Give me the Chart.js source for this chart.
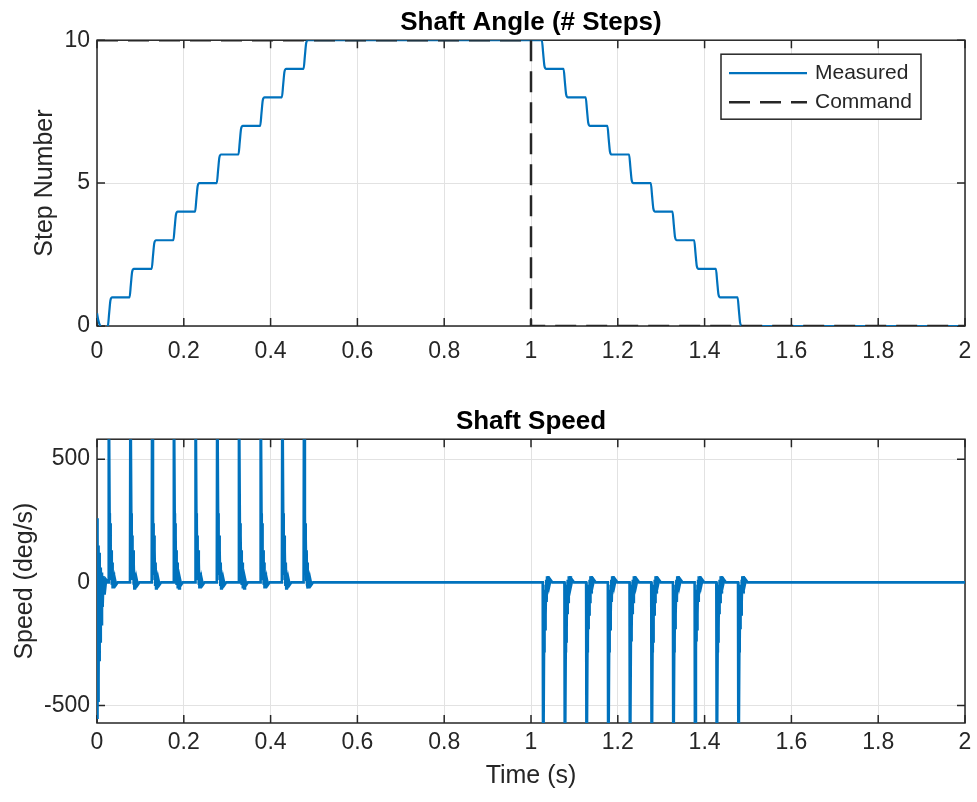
<!DOCTYPE html>
<html>
<head>
  <title>Shaft Angle / Shaft Speed</title>
  <script src="https://cdn.jsdelivr.net/npm/chart.js"></script>
  <style>
    body { margin: 0; background: #fff; }
    .panel { position: absolute; left: 0; width: 977px; }
  </style>
</head>
<body>
  <div class="panel" style="top:0; height:380px;"><canvas id="angleChart"></canvas></div>
  <div class="panel" style="top:380px; height:422px;"><canvas id="speedChart"></canvas></div>

  <script>
    // ---- data ----
    const xTickValues = [0, 0.2, 0.4, 0.6, 0.8, 1, 1.2, 1.4, 1.6, 1.8, 2];
    const xTickLabels = ['0', '0.2', '0.4', '0.6', '0.8', '1', '1.2', '1.4', '1.6', '1.8', '2'];
    const angleTickValues = [0, 5, 10];
    const angleTickLabels = ['0', '5', '10'];
    const speedTickValues = [-500, 0, 500];
    const speedTickLabels = ['-500', '0', '500'];

    // shaft angle, measured (steps)
    const angleTime = [
      0, 0.003, 0.007, 0.015,
      0.025, 0.028, 0.031, 0.035,
      0.075, 0.078, 0.081, 0.085,
      0.126, 0.129, 0.132, 0.136,
      0.176, 0.179, 0.182, 0.186,
      0.226, 0.229, 0.232, 0.236,
      0.276, 0.279, 0.282, 0.286,
      0.326, 0.329, 0.332, 0.336,
      0.376, 0.379, 0.382, 0.386,
      0.426, 0.429, 0.432, 0.436,
      0.476, 0.479, 0.482, 0.486,
      1.025, 1.028, 1.031, 1.035,
      1.075, 1.078, 1.081, 1.085,
      1.126, 1.129, 1.132, 1.136,
      1.176, 1.179, 1.182, 1.186,
      1.226, 1.229, 1.232, 1.236,
      1.276, 1.279, 1.282, 1.286,
      1.326, 1.329, 1.332, 1.336,
      1.376, 1.379, 1.382, 1.386,
      1.426, 1.429, 1.432, 1.436,
      1.476, 1.479, 1.482, 1.486,
      2
    ];
    const angleMeasured = [
      0.45, 0.2, 0.02, -0.05,
      0, 0.45, 0.9, 1,
      1, 1.45, 1.9, 2,
      2, 2.45, 2.9, 3,
      3, 3.45, 3.9, 4,
      4, 4.45, 4.9, 5,
      5, 5.45, 5.9, 6,
      6, 6.45, 6.9, 7,
      7, 7.45, 7.9, 8,
      8, 8.45, 8.9, 9,
      9, 9.45, 9.9, 10,
      10, 9.55, 9.1, 9,
      9, 8.55, 8.1, 8,
      8, 7.55, 7.1, 7,
      7, 6.55, 6.1, 6,
      6, 5.55, 5.1, 5,
      5, 4.55, 4.1, 4,
      4, 3.55, 3.1, 3,
      3, 2.55, 2.1, 2,
      2, 1.55, 1.1, 1,
      1, 0.55, 0.1, 0,
      0
    ];

    // shaft angle, command (steps)
    const commandTime = [0, 1, 1, 2];
    const commandValue = [10, 10, 0, 0];

    // shaft speed (deg/s); spikes run past the axis limits
    const speedTime = [
      0, 0.0006, 0.0012, 0.0018, 0.0025, 0.0032, 0.004, 0.0048, 0.0057, 0.0066, 0.0076, 0.0087, 0.010, 0.0115, 0.013, 0.015, 0.0175, 0.021, 0.025,
      0.026, 0.027, 0.029, 0.0296, 0.0302, 0.0308, 0.0315, 0.0322, 0.033, 0.034, 0.035, 0.036, 0.0375, 0.039, 0.041, 0.044, 0.048,
      0.076, 0.077, 0.079, 0.0796, 0.0802, 0.0808, 0.0815, 0.0822, 0.083, 0.084, 0.085, 0.086, 0.0875, 0.089, 0.091, 0.094, 0.098,
      0.126, 0.127, 0.129, 0.1296, 0.1302, 0.1308, 0.1315, 0.1322, 0.133, 0.134, 0.135, 0.136, 0.1375, 0.139, 0.141, 0.144, 0.148,
      0.176, 0.177, 0.179, 0.1796, 0.1802, 0.1808, 0.1815, 0.1822, 0.183, 0.184, 0.185, 0.186, 0.1875, 0.189, 0.191, 0.194, 0.198,
      0.226, 0.227, 0.229, 0.2296, 0.2302, 0.2308, 0.2315, 0.2322, 0.233, 0.234, 0.235, 0.236, 0.2375, 0.239, 0.241, 0.244, 0.248,
      0.276, 0.277, 0.279, 0.2796, 0.2802, 0.2808, 0.2815, 0.2822, 0.283, 0.284, 0.285, 0.286, 0.2875, 0.289, 0.291, 0.294, 0.298,
      0.326, 0.327, 0.329, 0.3296, 0.3302, 0.3308, 0.3315, 0.3322, 0.333, 0.334, 0.335, 0.336, 0.3375, 0.339, 0.341, 0.344, 0.348,
      0.376, 0.377, 0.379, 0.3796, 0.3802, 0.3808, 0.3815, 0.3822, 0.383, 0.384, 0.385, 0.386, 0.3875, 0.389, 0.391, 0.394, 0.398,
      0.426, 0.427, 0.429, 0.4296, 0.4302, 0.4308, 0.4315, 0.4322, 0.433, 0.434, 0.435, 0.436, 0.4375, 0.439, 0.441, 0.444, 0.448,
      0.476, 0.477, 0.479, 0.4796, 0.4802, 0.4808, 0.4815, 0.4822, 0.483, 0.484, 0.485, 0.486, 0.4875, 0.489, 0.491, 0.494, 0.498,
      1.027, 1.028, 1.030, 1.0306, 1.0312, 1.0318, 1.0325, 1.0332, 1.034, 1.035, 1.036, 1.037, 1.0385, 1.040, 1.042, 1.045, 1.049,
      1.077, 1.078, 1.080, 1.0806, 1.0812, 1.0818, 1.0825, 1.0832, 1.084, 1.085, 1.086, 1.087, 1.0885, 1.090, 1.092, 1.095, 1.099,
      1.127, 1.128, 1.130, 1.1306, 1.1312, 1.1318, 1.1325, 1.1332, 1.134, 1.135, 1.136, 1.137, 1.1385, 1.140, 1.142, 1.145, 1.149,
      1.177, 1.178, 1.180, 1.1806, 1.1812, 1.1818, 1.1825, 1.1832, 1.184, 1.185, 1.186, 1.187, 1.1885, 1.190, 1.192, 1.195, 1.199,
      1.227, 1.228, 1.230, 1.2306, 1.2312, 1.2318, 1.2325, 1.2332, 1.234, 1.235, 1.236, 1.237, 1.2385, 1.240, 1.242, 1.245, 1.249,
      1.277, 1.278, 1.280, 1.2806, 1.2812, 1.2818, 1.2825, 1.2832, 1.284, 1.285, 1.286, 1.287, 1.2885, 1.290, 1.292, 1.295, 1.299,
      1.327, 1.328, 1.330, 1.3306, 1.3312, 1.3318, 1.3325, 1.3332, 1.334, 1.335, 1.336, 1.337, 1.3385, 1.340, 1.342, 1.345, 1.349,
      1.377, 1.378, 1.380, 1.3806, 1.3812, 1.3818, 1.3825, 1.3832, 1.384, 1.385, 1.386, 1.387, 1.3885, 1.390, 1.392, 1.395, 1.399,
      1.427, 1.428, 1.430, 1.4306, 1.4312, 1.4318, 1.4325, 1.4332, 1.434, 1.435, 1.436, 1.437, 1.4385, 1.440, 1.442, 1.445, 1.449,
      1.477, 1.478, 1.480, 1.4806, 1.4812, 1.4818, 1.4825, 1.4832, 1.484, 1.485, 1.486, 1.487, 1.4885, 1.490, 1.492, 1.495, 1.499,
      2
    ];
    const speedValue = [
      0, 260, -555, 200, -480, 150, -400, 120, -320, 90, -240, 60, -170, 40, -100, 25, -50, 10, 0,
      0, 900, 280, 60, 240, 30, 190, 10, 130, -10, 80, -25, 40, -25, 15, -10, 0,
      0, 900, 280, 60, 240, 30, 190, 10, 130, -10, 80, -25, 40, -25, 15, -10, 0,
      0, 900, 280, 60, 240, 30, 190, 10, 130, -10, 80, -25, 40, -25, 15, -10, 0,
      0, 900, 280, 60, 240, 30, 190, 10, 130, -10, 80, -25, 40, -25, 15, -10, 0,
      0, 900, 280, 60, 240, 30, 190, 10, 130, -10, 80, -25, 40, -25, 15, -10, 0,
      0, 900, 280, 60, 240, 30, 190, 10, 130, -10, 80, -25, 40, -25, 15, -10, 0,
      0, 900, 280, 60, 240, 30, 190, 10, 130, -10, 80, -25, 40, -25, 15, -10, 0,
      0, 900, 280, 60, 240, 30, 190, 10, 130, -10, 80, -25, 40, -25, 15, -10, 0,
      0, 900, 280, 60, 240, 30, 190, 10, 130, -10, 80, -25, 40, -25, 15, -10, 0,
      0, 900, 280, 60, 240, 30, 190, 10, 130, -10, 80, -25, 40, -25, 15, -10, 0,
      0, -900, -280, -60, -240, -30, -190, -10, -130, 10, -80, 25, -40, 25, -15, 10, 0,
      0, -900, -280, -60, -240, -30, -190, -10, -130, 10, -80, 25, -40, 25, -15, 10, 0,
      0, -900, -280, -60, -240, -30, -190, -10, -130, 10, -80, 25, -40, 25, -15, 10, 0,
      0, -900, -280, -60, -240, -30, -190, -10, -130, 10, -80, 25, -40, 25, -15, 10, 0,
      0, -900, -280, -60, -240, -30, -190, -10, -130, 10, -80, 25, -40, 25, -15, 10, 0,
      0, -900, -280, -60, -240, -30, -190, -10, -130, 10, -80, 25, -40, 25, -15, 10, 0,
      0, -900, -280, -60, -240, -30, -190, -10, -130, 10, -80, 25, -40, 25, -15, 10, 0,
      0, -900, -280, -60, -240, -30, -190, -10, -130, 10, -80, 25, -40, 25, -15, 10, 0,
      0, -900, -280, -60, -240, -30, -190, -10, -130, 10, -80, 25, -40, 25, -15, 10, 0,
      0, -900, -280, -60, -240, -30, -190, -10, -130, 10, -80, 25, -40, 25, -15, 10, 0,
      0
    ];

    // ---- styling ----
    const FONT = '"Liberation Sans", Arial, Helvetica, sans-serif';
    const AXIS_COLOR = '#262626';
    const GRID_COLOR = '#e2e2e2';
    const BLUE = '#0072BD';

    function toPoints(xs, ys) {
      return xs.map((x, i) => ({ x: x, y: ys[i] }));
    }

    function fixedTicks(values) {
      return function(scale) {
        scale.ticks = values.map(v => ({ value: v }));
      };
    }

    function tickLabel(values, labels) {
      return function(value) {
        const i = values.findIndex(v => Math.abs(v - value) < 1e-9);
        return i >= 0 ? labels[i] : '';
      };
    }

    // MATLAB style box: frame on all four sides with inward tick marks, under the data
    const axesBox = {
      id: 'axesBox',
      beforeDatasetsDraw(chart) {
        const { ctx, chartArea: a, scales } = chart;
        ctx.save();
        ctx.strokeStyle = AXIS_COLOR;
        ctx.lineWidth = 1.5;
        ctx.strokeRect(a.left, a.top, a.width, a.height);
        ctx.beginPath();
        scales.x.ticks.forEach(t => {
          const px = scales.x.getPixelForValue(t.value);
          ctx.moveTo(px, a.bottom); ctx.lineTo(px, a.bottom - 8);
          ctx.moveTo(px, a.top); ctx.lineTo(px, a.top + 8);
        });
        scales.y.ticks.forEach(t => {
          const py = scales.y.getPixelForValue(t.value);
          ctx.moveTo(a.left, py); ctx.lineTo(a.left + 8, py);
          ctx.moveTo(a.right, py); ctx.lineTo(a.right - 8, py);
        });
        ctx.stroke();
        ctx.restore();
      }
    };

    // legend box drawn inside the axes, top right
    const insideLegend = {
      id: 'insideLegend',
      afterDatasetsDraw(chart) {
        const { ctx, chartArea } = chart;
        const w = 200, h = 65;
        const x0 = chartArea.right - 44 - w;
        const y0 = chartArea.top + 14;
        ctx.save();
        ctx.fillStyle = '#fff';
        ctx.fillRect(x0, y0, w, h);
        ctx.strokeStyle = AXIS_COLOR;
        ctx.lineWidth = 1.5;
        ctx.strokeRect(x0, y0, w, h);
        ctx.font = '21px ' + FONT;
        ctx.textBaseline = 'middle';
        ctx.textAlign = 'left';
        chart.data.datasets.forEach((ds, i) => {
          const y = y0 + 19 + i * 29;
          ctx.strokeStyle = ds.borderColor;
          ctx.lineWidth = ds.borderWidth;
          ctx.setLineDash(ds.borderDash || []);
          ctx.beginPath();
          ctx.moveTo(x0 + 8, y);
          ctx.lineTo(x0 + 86, y);
          ctx.stroke();
          ctx.setLineDash([]);
          ctx.fillStyle = AXIS_COLOR;
          ctx.fillText(ds.label, x0 + 94, y);
        });
        ctx.restore();
      }
    };

    function xScale(height, tickPad, title) {
      return {
        type: 'linear',
        min: 0,
        max: 2,
        afterBuildTicks: fixedTicks(xTickValues),
        afterFit: s => {
          s.height = height;
          // first/last labels hang into the outer margins, keep the axes width fixed
          s.paddingLeft = 0;
          s.paddingRight = 0;
        },
        grid: { color: GRID_COLOR, lineWidth: 1, drawTicks: false },
        border: { display: false },
        ticks: {
          font: { family: FONT, size: 23 },
          color: AXIS_COLOR,
          padding: tickPad,
          maxRotation: 0,
          autoSkip: false,
          callback: tickLabel(xTickValues, xTickLabels)
        },
        title: title
      };
    }

    document.addEventListener('DOMContentLoaded', function() {
      new Chart(document.getElementById('angleChart'), {
        type: 'line',
        data: {
          datasets: [
            {
              label: 'Measured',
              data: toPoints(angleTime, angleMeasured),
              borderColor: BLUE,
              borderWidth: 2.2,
              pointRadius: 0,
              cubicInterpolationMode: 'monotone',
              order: 2
            },
            {
              label: 'Command',
              data: toPoints(commandTime, commandValue),
              borderColor: AXIS_COLOR,
              borderWidth: 2.5,
              borderDash: [21, 10],
              pointRadius: 0,
              order: 1
            }
          ]
        },
        options: {
          responsive: true,
          maintainAspectRatio: false,
          animation: false,
          layout: { padding: { left: 0, right: 12, top: 0, bottom: 0 } },
          plugins: {
            legend: { display: false },
            tooltip: { enabled: false },
            title: {
              display: true,
              fullSize: false,
              text: 'Shaft Angle (# Steps)',
              color: '#000',
              font: { family: FONT, size: 26, weight: 'bold' },
              padding: { top: 7, bottom: 2 }
            }
          },
          scales: {
            x: xScale(54, 12, { display: false }),
            y: {
              min: 0,
              max: 10,
              afterBuildTicks: fixedTicks(angleTickValues),
              afterFit: s => { s.width = 97; },
              grid: { color: GRID_COLOR, lineWidth: 1, drawTicks: false },
              border: { display: false },
              ticks: {
                font: { family: FONT, size: 23 },
                color: AXIS_COLOR,
                padding: 7,
                callback: tickLabel(angleTickValues, angleTickLabels)
              },
              title: {
                display: true,
                text: 'Step Number',
                color: AXIS_COLOR,
                font: { family: FONT, size: 25 },
                padding: { top: 30, bottom: 0 }
              }
            }
          }
        },
        plugins: [axesBox, insideLegend]
      });

      new Chart(document.getElementById('speedChart'), {
        type: 'line',
        data: {
          datasets: [
            {
              label: 'Measured',
              data: toPoints(speedTime, speedValue),
              borderColor: BLUE,
              borderWidth: 2.6,
              pointRadius: 0,
              clip: 0
            }
          ]
        },
        options: {
          responsive: true,
          maintainAspectRatio: false,
          animation: false,
          layout: { padding: { left: 0, right: 12, top: 0, bottom: 0 } },
          plugins: {
            legend: { display: false },
            tooltip: { enabled: false },
            title: {
              display: true,
              fullSize: false,
              text: 'Shaft Speed',
              color: '#000',
              font: { family: FONT, size: 26, weight: 'bold' },
              padding: { top: 26, bottom: 2 }
            }
          },
          scales: {
            x: xScale(79, 6, {
              display: true,
              text: 'Time (s)',
              color: AXIS_COLOR,
              font: { family: FONT, size: 25 },
              padding: { top: 0, bottom: 11 }
            }),
            y: {
              min: -571,
              max: 581,
              afterBuildTicks: fixedTicks(speedTickValues),
              afterFit: s => { s.width = 97; },
              grid: { color: GRID_COLOR, lineWidth: 1, drawTicks: false },
              border: { display: false },
              ticks: {
                font: { family: FONT, size: 23 },
                color: AXIS_COLOR,
                padding: 7,
                callback: tickLabel(speedTickValues, speedTickLabels)
              },
              title: {
                display: true,
                text: 'Speed (deg/s)',
                color: AXIS_COLOR,
                font: { family: FONT, size: 25 },
                padding: { top: 10, bottom: 0 }
              }
            }
          }
        },
        plugins: [axesBox]
      });
    });
  </script>
</body>
</html>
